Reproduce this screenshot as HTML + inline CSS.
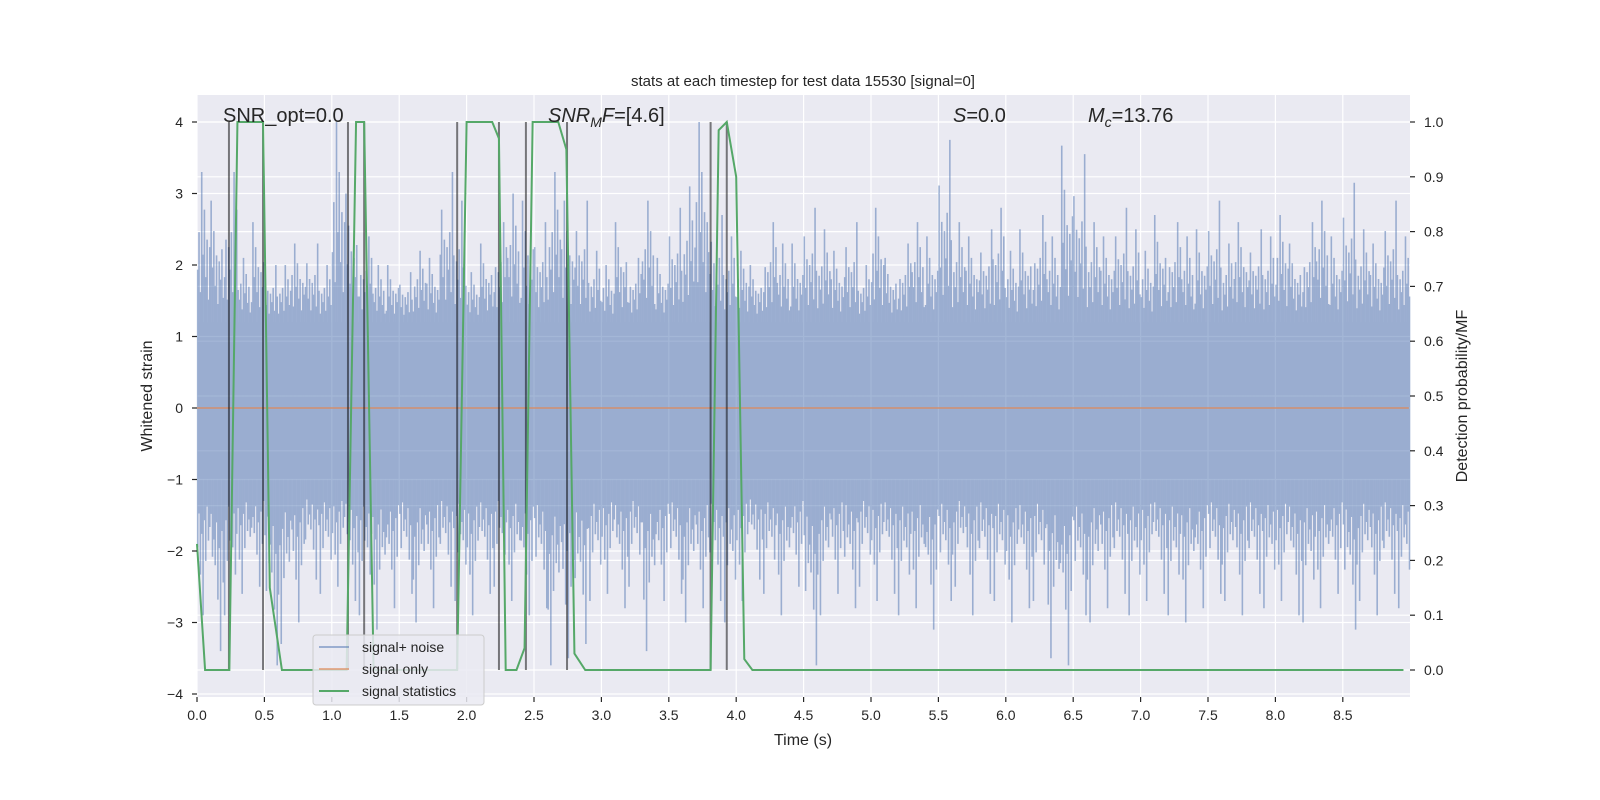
<!DOCTYPE html>
<html><head><meta charset="utf-8"><style>
html,body{margin:0;padding:0;background:#fff;}
svg{display:block;font-family:"Liberation Sans","DejaVu Sans",sans-serif;}
</style></head><body>
<svg id="chart" width="1600" height="800" xmlns="http://www.w3.org/2000/svg">
<rect x="197" y="95" width="1213" height="602" fill="#EAEAF2"/>
<g id="grid"></g>
<g id="noise" opacity="0.5"></g>
<g id="marks"></g>
<g id="axes"></g>
<text x="803" y="86" text-anchor="middle" font-size="15" fill="#262626">stats at each timestep for test data 15530 [signal=0]</text>
<text x="223" y="122" font-size="20" fill="#262626">SNR_opt=0.0</text>
<text x="548" y="122" font-size="20" fill="#262626"><tspan font-style="italic">SNR</tspan><tspan font-style="italic" font-size="14" dy="5">M</tspan><tspan font-style="italic" dy="-5">F</tspan>=[4.6]</text>
<text x="953" y="122" font-size="20" fill="#262626"><tspan font-style="italic">S</tspan>=0.0</text>
<text x="1088" y="122" font-size="20" fill="#262626"><tspan font-style="italic">M</tspan><tspan font-style="italic" font-size="14" dy="5">c</tspan><tspan dy="-5">=13.76</tspan></text>
<text x="803" y="745" text-anchor="middle" font-size="16" fill="#262626">Time (s)</text>
<text transform="translate(152,396) rotate(-90)" text-anchor="middle" font-size="16" fill="#262626">Whitened strain</text>
<text transform="translate(1467,396) rotate(-90)" text-anchor="middle" font-size="16" fill="#262626">Detection probability/MF</text>
<g>
<rect x="313" y="635" width="171" height="70" rx="3" fill="#EAEAF2" fill-opacity="0.85" stroke="#cccccc"/>
<line x1="319" y1="647" x2="349" y2="647" stroke="#4C72B0" stroke-opacity="0.5" stroke-width="2"/>
<text x="362" y="652" font-size="14" fill="#262626">signal+ noise</text>
<line x1="319" y1="669" x2="349" y2="669" stroke="#DD8452" stroke-opacity="0.6" stroke-width="2"/>
<text x="362" y="674" font-size="14" fill="#262626">signal only</text>
<line x1="319" y1="691" x2="349" y2="691" stroke="#55A868" stroke-width="2"/>
<text x="362" y="696" font-size="14" fill="#262626">signal statistics</text>
</g>
</svg>
<script>
// ---- data ----
const xTicks = [0.0,0.5,1.0,1.5,2.0,2.5,3.0,3.5,4.0,4.5,5.0,5.5,6.0,6.5,7.0,7.5,8.0,8.5];
const yTicks = [-4,-3,-2,-1,0,1,2,3,4];
const y2Ticks = [0.0,0.1,0.2,0.3,0.4,0.5,0.6,0.7,0.8,0.9,1.0];
const binStart = 0.0, binWidth = 0.1;
const noiseMax = [3.3,2.9,3.3,2.1,2.6,2.0,2.0,2.3,2.3,2.0,4.0,3.0,2.4,2.0,2.0,1.9,2.2,2.1,3.3,2.9,
 1.9,2.3,2.6,3.0,2.9,2.6,3.3,2.9,2.9,2.2,2.0,2.6,2.1,2.9,2.1,2.8,3.1,4.0,2.7,2.4,
 2.2,2.0,2.6,2.3,2.3,2.8,2.5,2.2,2.6,2.0,2.8,2.1,2.3,2.6,2.4,3.75,2.6,2.4,2.5,2.8,
 2.2,2.5,2.7,2.4,3.67,3.55,2.6,2.4,2.8,2.5,2.2,2.7,2.6,2.4,2.5,2.9,2.3,2.6,2.5,2.4,
 2.7,2.3,2.6,2.9,2.4,3.15,2.5,2.3,2.9,2.4];
const noiseMin = [-2.9,-3.4,-2.9,-2.6,-2.5,-3.6,-3.3,-3.0,-2.4,-2.6,-2.5,-2.7,-2.9,-3.1,-2.8,-2.6,-3.0,-2.8,-2.5,-2.7,
 -2.9,-2.6,-2.5,-2.7,-2.9,-2.8,-3.6,-3.5,-3.3,-2.7,-2.6,-2.8,-2.5,-3.4,-2.7,-2.6,-3.0,-2.8,-2.7,-3.0,
 -2.7,-2.4,-2.6,-2.9,-2.5,-3.6,-2.9,-2.6,-2.8,-2.5,-2.7,-2.6,-2.9,-2.8,-3.1,-2.7,-2.5,-2.9,-2.6,-2.7,
 -3.0,-2.8,-2.7,-3.5,-3.6,-2.9,-3.0,-2.8,-2.6,-2.9,-2.7,-2.6,-2.9,-3.0,-2.8,-2.6,-2.7,-2.9,-2.6,-2.8,
 -2.7,-2.9,-3.0,-2.8,-2.6,-3.1,-2.7,-2.9,-2.6,-2.8];
const coreUpper = 1.2, coreLower = -1.0;
const statTimes = [0.0,0.06,0.24,0.30,0.49,0.54,0.63,1.11,1.18,1.24,1.31,1.93,2.00,2.19,2.24,2.29,2.37,2.43,2.49,2.68,2.74,2.80,2.88,3.81,3.87,3.93,4.0,4.06,4.12,8.95];
const statProb  = [0.23,0.0,0.0,1.0,1.0,0.15,0.0,0.0,1.0,1.0,0.0,0.0,1.0,1.0,0.97,0.0,0.0,0.04,1.0,1.0,0.95,0.03,0.0,0.0,0.985,1.0,0.9,0.02,0.0,0.0];
const eventTimes = [0.237,0.49,1.12,1.24,1.93,2.24,2.44,2.745,3.81,3.93];
const signalOnly = [0,0];
const signalTimes = [0.0,8.99];

// ---- scales ----
const X0=197, X1=1410, Y0=95, Y1=697;
function xs(t){return 197+134.8*t;}
function ys(v){return 408-71.5*v;}
function ys2(p){return 670-548*p;}
const NS="http://www.w3.org/2000/svg";
function mk(tag,attrs,parent){const e=document.createElementNS(NS,tag);for(const k in attrs)e.setAttribute(k,attrs[k]);parent.appendChild(e);return e;}
const grid=document.getElementById('grid'), noise=document.getElementById('noise'), marks=document.getElementById('marks'), axes=document.getElementById('axes');

// grid
xTicks.forEach(t=>{const l=mk('line',{x1:xs(t),x2:xs(t),y1:Y0,y2:Y1,stroke:'#fff','stroke-width':1.2},grid);

});
yTicks.forEach(v=>{const l=mk('line',{x1:X0,x2:X1,y1:ys(v),y2:ys(v),stroke:'#fff','stroke-width':1.2},grid);

});
y2Ticks.forEach(p=>{const l=mk('line',{x1:X0,x2:X1,y1:ys2(p),y2:ys2(p),stroke:'#fff','stroke-width':1.2},grid);

});

// noise: core band plus per-bin strokes reaching toward the read extremes
const core=mk('rect',{x:xs(0),y:ys(coreUpper),width:xs(8.99)-xs(0),height:ys(coreLower)-ys(coreUpper),fill:'#4C72B0'},noise);


const upFrac=[0.35,0.6,0.2,1.0,0.45,0.75,0.3,0.55,0.15,0.5];
const loFrac=[0.5,0.25,0.7,0.4,1.0,0.3,0.6,0.2,0.45,0.35];
noiseMax.forEach((v,i)=>{
  for(let j=0;j<10;j++){
    const t=binStart+binWidth*(i+(j+0.5)/10);
    const hi=coreUpper+(v-coreUpper)*upFrac[(j+i*3)%10];
    const lo=coreLower+(noiseMin[i]-coreLower)*loFrac[(j+i*7)%10];
    const l=mk('line',{x1:xs(t),x2:xs(t),y1:ys(hi),y2:ys(lo),stroke:'#4C72B0','stroke-width':1.6},noise);
    
    
  }
});

// signal only
const so=mk('polyline',{points:signalTimes.map((t,i)=>xs(t)+','+ys(signalOnly[i])).join(' '),fill:'none',stroke:'#DD8452','stroke-opacity':0.8,'stroke-width':1.5},marks);



// event lines
eventTimes.forEach(t=>{const l=mk('line',{x1:xs(t),x2:xs(t),y1:ys2(1),y2:ys2(0),stroke:'#000','stroke-opacity':0.5,'stroke-width':2},marks);

});

// stats line
const st=mk('polyline',{points:statTimes.map((t,i)=>xs(t)+','+ys2(statProb[i])).join(' '),fill:'none',stroke:'#55A868','stroke-width':2},marks);



// ticks
xTicks.forEach(t=>{
  const k=mk('line',{x1:xs(t),x2:xs(t),y1:Y1,y2:Y1+5,stroke:'#262626','stroke-width':1.2},axes);
  
  
  const tx=mk('text',{x:xs(t),y:Y1+23,'text-anchor':'middle','font-size':14,fill:'#262626'},axes);
  tx.textContent=t.toFixed(1);
  
  
});
yTicks.forEach(v=>{
  const k=mk('line',{x1:X0-5,x2:X0,y1:ys(v),y2:ys(v),stroke:'#262626','stroke-width':1.2},axes);
  
  
  const tx=mk('text',{x:X0-14,y:ys(v)+5,'text-anchor':'end','font-size':14,fill:'#262626'},axes);
  tx.textContent=v<0?'\u2212'+Math.abs(v):String(v);
  
  
});
y2Ticks.forEach(p=>{
  const k=mk('line',{x1:X1,x2:X1+5,y1:ys2(p),y2:ys2(p),stroke:'#262626','stroke-width':1.2},axes);
  
  
  const tx=mk('text',{x:X1+14,y:ys2(p)+5,'text-anchor':'start','font-size':14,fill:'#262626'},axes);
  tx.textContent=p.toFixed(1);
  
  
});
</script>
</body></html>
